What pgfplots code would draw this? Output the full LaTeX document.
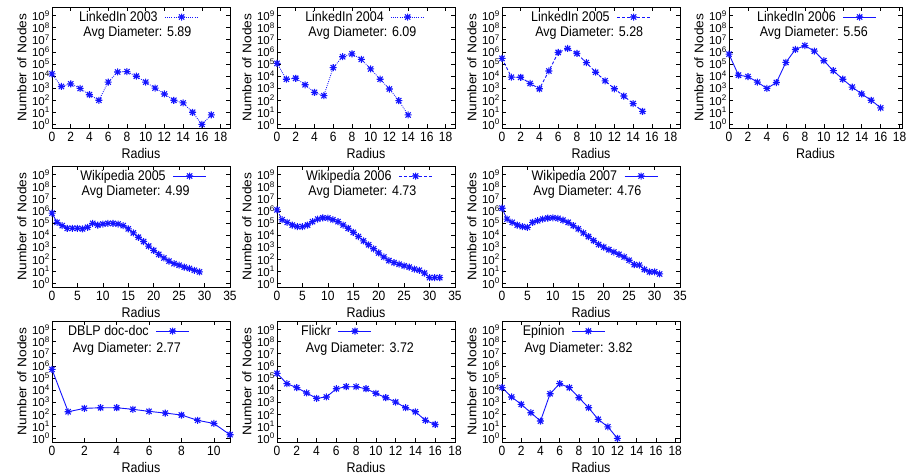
\documentclass[border=0pt]{standalone}
\usepackage{fontspec}
\setmainfont{Liberation Sans}
\usepackage{graphicx}
\usepackage{pgfplots}
\pgfplotsset{compat=1.18}

% gnuplot-like asterisk: + and x on top of each other
\pgfdeclareplotmark{gpstar}{%
  \pgfpathmoveto{\pgfqpoint{-\pgfplotmarksize}{0pt}}%
  \pgfpathlineto{\pgfqpoint{\pgfplotmarksize}{0pt}}%
  \pgfpathmoveto{\pgfqpoint{0pt}{-\pgfplotmarksize}}%
  \pgfpathlineto{\pgfqpoint{0pt}{\pgfplotmarksize}}%
  \pgfpathmoveto{\pgfqpoint{-.75\pgfplotmarksize}{-.75\pgfplotmarksize}}%
  \pgfpathlineto{\pgfqpoint{.75\pgfplotmarksize}{.75\pgfplotmarksize}}%
  \pgfpathmoveto{\pgfqpoint{-.75\pgfplotmarksize}{.75\pgfplotmarksize}}%
  \pgfpathlineto{\pgfqpoint{.75\pgfplotmarksize}{-.75\pgfplotmarksize}}%
  \pgfusepathqstroke}

\newcommand\lbl{\fontsize{12.5}{14}\selectfont}
\newcommand\tck{\fontsize{12}{13}\selectfont}
\newcommand\ytck{\fontsize{11.5}{12}\selectfont}
% the original is a little stretched vertically
\newcommand\vs[1]{\scalebox{1}[1.12]{#1}}
\newcommand\avg[3]{\node[font=\lbl] at (rel axis cs:#1,#2) {\vs{Avg Diameter: #3}};}

\definecolor{gpblue}{RGB}{20,20,255}

\pgfplotsset{
  /pgf/number format/assume math mode=true,
  every axis/.append style={
    scale only axis, width=178pt, height=121pt,
    clip=false,
    yminorticks=false,
    ytick={1,10,100,1000,10000,100000,1000000,10000000,100000000,1000000000},
    yticklabel={\pgfmathtruncatemacro\ex{round(\tick)}10\textsuperscript{\ex}},
    xticklabel={\vs{\pgfmathprintnumber{\tick}}},
    tick align=inside, major tick length=4pt,
    tick style={black, line width=0.5pt},
    axis line style={line width=0.6pt},
    xticklabel style={font=\tck, yshift=-1pt},
    yticklabel style={font=\ytck, inner sep=2pt},
    label style={font=\lbl},
    xlabel={\vs{Radius}}, ylabel={\scalebox{1.1}[1]{Number of Nodes}},
    xlabel style={yshift=1pt},
    legend plot pos=right,
    legend image code/.code={\draw[mark repeat=2,mark phase=2] plot coordinates {(0pt,0pt)(16.5pt,0pt)(33pt,0pt)};},
    legend style={draw=none, fill=none, anchor=west, inner sep=0pt, font=\lbl,
      nodes={inner sep=1pt}, column sep=6pt},
  },
  every axis plot/.append style={line width=0.9pt},
  every axis plot post/.append style={gpblue, mark=gpstar, mark size=3.5pt,
      mark options={solid, line width=1.1pt}},
  dotline/.style={dash pattern=on 0.9pt off 1.2pt, line width=0.8pt},
  dashline/.style={dash pattern=on 3pt off 2pt},
}

\begin{document}
\begin{tikzpicture}
\useasboundingbox (0pt,0pt) rectangle (907pt,475pt);

% ---------------- row 1 ----------------
\begin{axis}[ymode=log, log basis y=10, ymin=0.5, ymax=5e9, anchor=south west,
  at={(52pt,347pt)}, xmin=0, xmax=19, xtick={0,2,...,18},
  legend style={at={(0.146,0.917)}}]
\addplot+[dotline] coordinates {(0,14800)(1,1350)(2,2240)(3,933)(4,282)(5,98)(6,3090)(7,21400)(8,22900)(9,9550)(10,3090)(11,1000)(12,324)(13,98)(14,59)(15,10)(16,1)(17,6)};
\addlegendentry{\vs{LinkedIn 2003}}
\avg{0.48}{0.785}{5.89}
\end{axis}

\begin{axis}[ymode=log, log basis y=10, ymin=0.5, ymax=5e9, anchor=south west,
  at={(277pt,347pt)}, xmin=0, xmax=19, xtick={0,2,...,18},
  legend style={at={(0.152,0.917)}}]
\addplot+[dotline] coordinates {(0,110000)(1,5370)(2,6460)(3,1860)(4,437)(5,234)(6,49000)(7,389000)(8,676000)(9,234000)(10,38000)(11,5370)(12,832)(13,91)(14,6)};
\addlegendentry{\vs{LinkedIn 2004}}
\avg{0.48}{0.785}{6.09}
\end{axis}

\begin{axis}[ymode=log, log basis y=10, ymin=0.5, ymax=5e9, anchor=south west,
  at={(502pt,347pt)}, xmin=0, xmax=19, xtick={0,2,...,18},
  legend style={at={(0.157,0.917)}}]
\addplot+[dashline] coordinates {(0,282000)(1,7940)(2,7800)(3,2400)(4,871)(5,25700)(6,871000)(7,1860000)(8,724000)(9,126000)(10,20400)(11,3980)(12,871)(13,219)(14,52)(15,12)};
\addlegendentry{\vs{LinkedIn 2005}}
\avg{0.49}{0.785}{5.28}
\end{axis}

\begin{axis}[ymode=log, log basis y=10, ymin=0.5, ymax=5e9, anchor=south west,
  at={(729pt,347pt)}, width=173pt, xmin=0, xmax=18.25, xtick={0,2,...,18},
  legend style={at={(0.156,0.917)}}]
\addplot coordinates {(0,631000)(1,11500)(2,8910)(3,3090)(4,933)(5,2880)(6,132000)(7,1550000)(8,3240000)(9,1120000)(10,182000)(11,27500)(12,5370)(13,1200)(14,324)(15,98)(16,23)};
\addlegendentry{\vs{LinkedIn 2006}}
\avg{0.49}{0.785}{5.56}
\end{axis}

% ---------------- row 2 ----------------
\begin{axis}[ymode=log, log basis y=10, ymin=0.5, ymax=5e9, anchor=south west,
  at={(52pt,188pt)}, xmin=0, xmax=35, xtick={0,5,...,35},
  legend style={at={(0.152,0.917)}}]
\addplot coordinates {(0,631000)(1,110000)(2,58900)(3,35500)(4,35500)(5,35500)(6,31600)(7,42700)(8,91200)(9,66100)(10,79400)(11,91200)(12,91200)(13,79400)(14,58900)(15,31600)(16,14800)(17,6460)(18,2880)(19,1200)(20,525)(21,251)(22,126)(23,68)(24,43)(25,32)(26,22)(27,17)(28,12)(29,9)};
\addlegendentry{\vs{Wikipedia 2005}}
\avg{0.47}{0.785}{4.99}
\end{axis}

\begin{axis}[ymode=log, log basis y=10, ymin=0.5, ymax=5e9, anchor=south west,
  at={(277pt,188pt)}, xmin=0, xmax=35, xtick={0,5,...,35},
  legend style={at={(0.157,0.917)}}]
\addplot+[dashline] coordinates {(0,1200000)(1,182000)(2,110000)(3,66100)(4,49000)(5,49000)(6,66100)(7,126000)(8,204000)(9,263000)(10,251000)(11,182000)(12,126000)(13,66100)(14,35500)(15,16600)(16,7410)(17,3240)(18,1550)(19,724)(20,324)(21,151)(22,76)(23,52)(24,38)(25,28)(26,22)(27,15)(28,12)(29,7)(30,3)(31,3)(32,3)};
\addlegendentry{\vs{Wikipedia 2006}}
\avg{0.48}{0.785}{4.73}
\end{axis}

\begin{axis}[ymode=log, log basis y=10, ymin=0.5, ymax=5e9, anchor=south west,
  at={(502pt,188pt)}, xmin=0, xmax=35, xtick={0,5,...,35},
  legend style={at={(0.160,0.917)}}]
\addplot coordinates {(0,1620000)(1,204000)(2,110000)(3,66100)(4,49000)(5,42700)(6,110000)(7,151000)(8,204000)(9,251000)(10,263000)(11,234000)(12,170000)(13,110000)(14,58900)(15,31600)(16,14800)(17,7410)(18,3470)(19,1660)(20,1000)(21,603)(22,389)(23,251)(24,151)(25,81)(26,35)(27,32)(28,14)(29,9)(30,9)(31,6)};
\addlegendentry{\vs{Wikipedia 2007}}
\avg{0.48}{0.785}{4.76}
\end{axis}

% ---------------- row 3 ----------------
\begin{axis}[ymode=log, log basis y=10, ymin=0.5, ymax=5e9, anchor=south west,
  at={(52pt,33pt)}, xmin=0, xmax=11, xtick={0,2,...,10},
  legend style={at={(0.084,0.917)}}]
\addplot coordinates {(0,501000)(1,158)(2,302)(3,339)(4,339)(5,251)(6,170)(7,123)(8,85)(9,31)(10,17)(11,2)};
\addlegendentry{\vs{DBLP doc-doc}}
\avg{0.42}{0.77}{2.77}
\end{axis}

\begin{axis}[ymode=log, log basis y=10, ymin=0.5, ymax=5e9, anchor=south west,
  at={(277pt,33pt)}, xmin=0, xmax=18, xtick={0,2,...,18},
  legend style={at={(0.129,0.917)}}]
\addplot coordinates {(0,234000)(1,33100)(2,15500)(3,5620)(4,2040)(5,2630)(6,12600)(7,18600)(8,18600)(9,12600)(10,5250)(11,2290)(12,1000)(13,339)(14,158)(15,31)(16,14)};
\addlegendentry{\vs{Flickr}}
\avg{0.466}{0.77}{3.72}
\end{axis}

\begin{axis}[ymode=log, log basis y=10, ymin=0.5, ymax=5e9, anchor=south west,
  at={(502pt,33pt)}, xmin=0, xmax=18.5, xtick={0,2,...,18},
  legend style={at={(0.11,0.917)}}]
\addplot coordinates {(0,15500)(1,2630)(2,646)(3,132)(4,27)(5,4900)(6,33100)(7,15500)(8,2290)(9,339)(10,37)(11,9)(12,1)};
\addlegendentry{\vs{Epinion}}
\avg{0.43}{0.77}{3.82}
\end{axis}
\end{tikzpicture}
\end{document}
